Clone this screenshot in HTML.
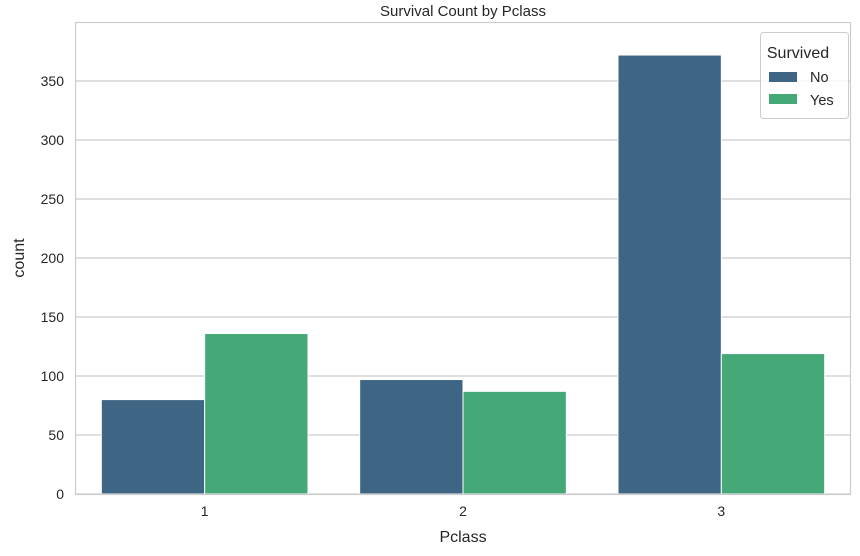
<!DOCTYPE html>
<html><head><meta charset="utf-8">
<style>
html,body{margin:0;padding:0;background:#fff;}
svg{display:block;font-family:"Liberation Sans","DejaVu Sans",sans-serif;}
</style></head>
<body>
<svg id="chart" width="860" height="556" viewBox="0 0 860 556">
  <rect x="0" y="0" width="860" height="556" fill="#fff"/>
  <g id="grid"></g>
  <g id="bars"></g>
  <rect x="75.5" y="22.5" width="775" height="472" fill="none" stroke="#cccccc" stroke-width="1.2"/>
  <g id="yticks"></g>
  <g id="xticks"></g>
  <text x="463" y="16" text-anchor="middle" font-size="15" fill="#262626">Survival Count by Pclass</text>
  <text x="463" y="542" text-anchor="middle" font-size="16" fill="#262626">Pclass</text>
  <text x="24" y="258" text-anchor="middle" font-size="16" fill="#262626" transform="rotate(-90 24 258)">count</text>
  <g>
    <rect x="760.5" y="32.5" width="88" height="86" rx="3" fill="#fff" fill-opacity="0.8" stroke="#cccccc"/>
    <text x="798" y="58" text-anchor="middle" font-size="16" fill="#262626">Survived</text>
    <rect x="769" y="72" width="28" height="10" fill="#3e6684"/>
    <text x="810" y="82" font-size="14.5" fill="#262626">No</text>
    <rect x="769" y="94" width="28" height="10" fill="#45a877"/>
    <text x="810" y="105" font-size="14.5" fill="#262626">Yes</text>
  </g>
</svg>
<script>
const categories = ["1", "2", "3"];
const survivedNo = [80, 97, 372];
const survivedYes = [136, 87, 119];
const yTicks = [0, 50, 100, 150, 200, 250, 300, 350];

const NS = "http://www.w3.org/2000/svg";
const left = 75.5, right = 850.5, bottom = 494, unit = 413 / 350;
const step = (right - left) / categories.length;
function yScale(v) { return bottom - v * unit; }
function xCenter(i) { return left + step * (i + 0.5); }
function mk(tag, attrs) { const e = document.createElementNS(NS, tag); for (const k in attrs) e.setAttribute(k, attrs[k]); return e; }

const grid = document.getElementById('grid');
const yt = document.getElementById('yticks');
yTicks.forEach(t => {
  const y = yScale(t);
  const l = mk('line', {x1: left, x2: right, y1: y, y2: y, stroke: '#cccccc', 'stroke-width': 1.2});
  
  
  grid.appendChild(l);
  const tx = mk('text', {x: 64, y: y + 5, 'text-anchor': 'end', 'font-size': 14, fill: '#262626'});
  tx.textContent = t;
  
  
  yt.appendChild(tx);
});

const bars = document.getElementById('bars');
const xt = document.getElementById('xticks');
const bw = step * 0.4;
categories.forEach((c, i) => {
  const cx = xCenter(i);
  const rn = mk('rect', {x: cx - bw, y: yScale(survivedNo[i]), width: bw, height: bottom - yScale(survivedNo[i]), fill: '#3e6684', stroke: '#fff', 'stroke-width': 1});
  
  
  bars.appendChild(rn);
  const ry = mk('rect', {x: cx, y: yScale(survivedYes[i]), width: bw, height: bottom - yScale(survivedYes[i]), fill: '#45a877', stroke: '#fff', 'stroke-width': 1});
  
  
  bars.appendChild(ry);
  const tx = mk('text', {x: cx, y: 516, 'text-anchor': 'middle', 'font-size': 14, fill: '#262626'});
  tx.textContent = c;
  
  
  xt.appendChild(tx);
});
</script>
</body></html>
